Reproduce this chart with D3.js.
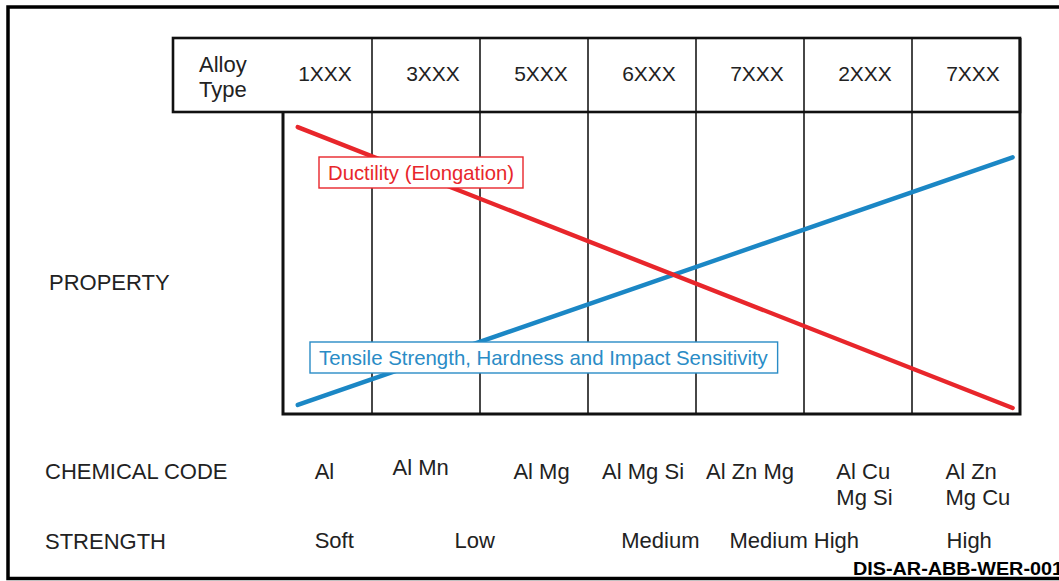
<!DOCTYPE html>
<html>
<head>
<meta charset="utf-8">
<script src="https://cdn.jsdelivr.net/npm/d3@7"></script>
<style>
  html, body { margin: 0; padding: 0; background: #fff; }
  svg { display: block; }
  text { font-family: "Liberation Sans", Arial, Helvetica, sans-serif; fill: #222; }
</style>
</head>
<body>
<svg id="chart" width="1059" height="581"></svg>
<script>
// ---- data ----
const alloyTypes = ["1XXX", "3XXX", "5XXX", "6XXX", "7XXX", "2XXX", "7XXX"];
const chemicalCodes = [["Al"], ["Al Mn"], ["Al Mg"], ["Al Mg Si"], ["Al Zn Mg"], ["Al Cu", "Mg Si"], ["Al Zn", "Mg Cu"]];
const chemicalAt = [0.06, 0.95, 2.07, 3.01, 4.0, 5.06, 6.11];   // position along the alloy columns (column index)
const strengthLabels = ["Soft", "Low", "Medium", "Medium High", "High"];
const strengthAt = [0.15, 1.45, 3.17, 4.41, 6.03];
const ductility = [{ x: 2, y: 95 }, { x: 99, y: 2 }];   // % along series, relative property level
const tensile = [{ x: 2, y: 3 }, { x: 99, y: 85 }];
const rowLabels = ["PROPERTY", "CHEMICAL CODE", "STRENGTH"];
const docCode = "DIS-AR-ABB-WER-001";

// ---- layout ----
const svg = d3.select("#chart");
const hdr = { left: 173, top: 38, bottom: 112 };
const plot = { left: 283, right: 1020, top: 112, bottom: 414 };
const FS = 22;
const red = "#e8262b", blue = "#1b87c5";

const xBand = d3.scaleBand().domain(d3.range(alloyTypes.length)).range([264, plot.right]).padding(0);
const xCol = d3.scaleLinear().domain([0, 1]).range([xBand(0) + xBand.bandwidth() / 2, xBand(1) + xBand.bandwidth() / 2]);
const xLine = d3.scaleLinear().domain([0, 100]).range([plot.left, plot.right]);
const yLine = d3.scaleLinear().domain([0, 100]).range([plot.bottom, plot.top]);

// outer frame (left, top, bottom)
svg.append("path")
  .attr("d", `M 1059 7 L 8 7 L 8 578.5 L 1059 578.5`)
  .attr("fill", "none").attr("stroke", "#000").attr("stroke-width", 3.5);
svg.append("line").attr("x1", 8).attr("x2", 1059).attr("y1", 579).attr("y2", 579)
  .attr("stroke", "#000").attr("stroke-width", 2);

// column dividers
svg.append("g").selectAll("line")
  .data(d3.range(1, alloyTypes.length))
  .join("line")
  .attr("x1", d => xBand(d)).attr("x2", d => xBand(d))
  .attr("y1", hdr.top).attr("y2", plot.bottom)
  .attr("stroke", "#333").attr("stroke-width", 1.8);

// header box
svg.append("rect")
  .attr("x", hdr.left).attr("y", hdr.top)
  .attr("width", plot.right - hdr.left).attr("height", hdr.bottom - hdr.top)
  .attr("fill", "none").attr("stroke", "#111").attr("stroke-width", 2.6);

// plot box (left, bottom, right)
svg.append("path")
  .attr("d", `M ${plot.left} ${plot.top} L ${plot.left} ${plot.bottom} L ${plot.right} ${plot.bottom} L ${plot.right} ${hdr.top}`)
  .attr("fill", "none").attr("stroke", "#111").attr("stroke-width", 3);

// header labels
const at = svg.append("text").attr("x", 199).attr("y", 72).attr("font-size", 22);
at.append("tspan").attr("x", 199).text("Alloy");
at.append("tspan").attr("x", 199).attr("dy", 25).text("Type");

svg.append("g").selectAll("text")
  .data(alloyTypes)
  .join("text")
  .attr("x", (d, i) => xBand(i) + xBand.bandwidth() / 2 + 7)
  .attr("y", 81)
  .attr("text-anchor", "middle")
  .attr("font-size", 21)
  .text(d => d);

// lines
const line = d3.line().x(d => xLine(d.x)).y(d => yLine(d.y));
svg.append("path").datum(tensile).attr("d", line)
  .attr("stroke", blue).attr("stroke-width", 4.4).attr("stroke-linecap", "round").attr("fill", "none");
svg.append("path").datum(ductility).attr("d", line)
  .attr("stroke", red).attr("stroke-width", 4.4).attr("stroke-linecap", "round").attr("fill", "none");

// labelled boxes
function boxLabel(txt, x, y, color, fs, x0, x1) {
  const g = svg.append("g");
  const rect = g.append("rect");
  const t = g.append("text").attr("x", x).attr("y", y).attr("font-size", fs).style("fill", color).text(txt);
  const bb = t.node().getBBox();
  rect.attr("x", bb.x - 9).attr("y", y - 23).attr("width", bb.width + 18).attr("height", 31)
    .attr("fill", "#fff").attr("stroke", color).attr("stroke-width", 1.4);
}
boxLabel("Ductility (Elongation)", 328, 180, red, 20.3);
boxLabel("Tensile Strength, Hardness and Impact Sensitivity", 319, 365, "#2a8cc6", 20.4);

// row labels
svg.append("g").selectAll("text")
  .data(rowLabels)
  .join("text")
  .attr("x", (d, i) => i === 0 ? 49 : 45)
  .attr("y", (d, i) => [290, 479, 549][i])
  .attr("font-size", FS)
  .text(d => d);

// chemical codes (multi-line entries are left aligned, block centred)
svg.append("g").selectAll("text")
  .data(chemicalCodes)
  .join("text")
  .attr("y", (d, i) => i === 1 ? 475 : 479)
  .attr("font-size", FS)
  .each(function (d, i) {
    const el = d3.select(this);
    const spans = d.map((s, k) => el.append("tspan").attr("dy", k ? 26 : 0).text(s));
    const w = d3.max(spans, s => s.node().getComputedTextLength());
    const x = xCol(chemicalAt[i]) - w / 2;
    spans.forEach(s => s.attr("x", x));
  });

// strength labels
svg.append("g").selectAll("text")
  .data(strengthLabels)
  .join("text")
  .attr("x", (d, i) => xCol(strengthAt[i]))
  .attr("y", 548)
  .attr("text-anchor", "middle")
  .attr("font-size", FS)
  .text(d => d);

// document code
svg.append("text")
  .attr("x", 853).attr("y", 575)
  .attr("font-size", 18).attr("font-weight", "bold")
  .attr("textLength", 210).attr("lengthAdjust", "spacingAndGlyphs")
  .style("fill", "#000")
  .text(docCode);
</script>
</body>
</html>
